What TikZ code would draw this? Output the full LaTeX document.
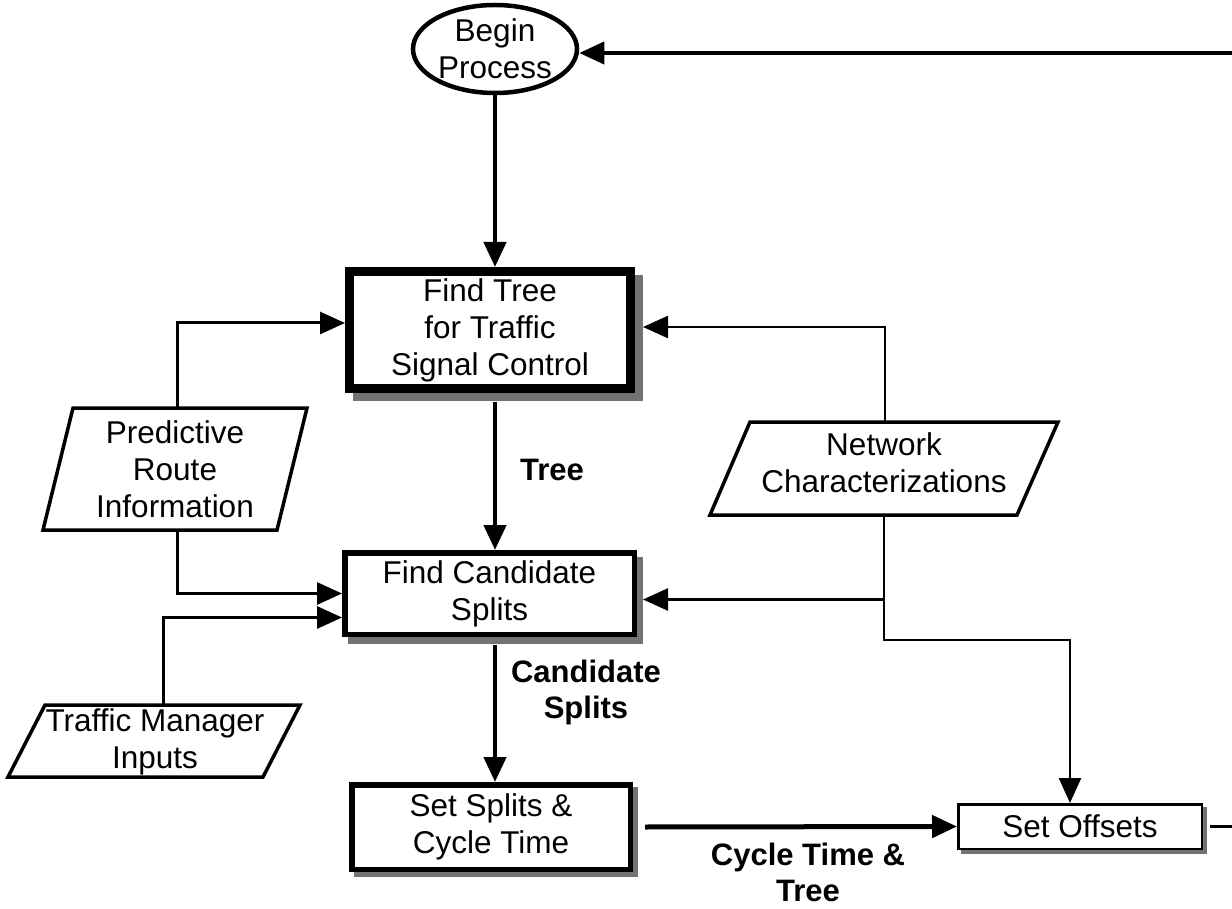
\documentclass[tikz,border=0pt]{standalone}
\usepackage{fontspec}
\setmainfont{Liberation Sans}
\usetikzlibrary{arrows.meta,shapes.geometric,calc}
\pgfdeclarelayer{background}
\pgfsetlayers{background,main}
\begin{document}
\begin{tikzpicture}[x=1pt,y=-1pt,
  txt/.style={font=\fontsize{31.5}{37}\selectfont, align=center, inner sep=0pt},
  lbl/.style={font=\fontsize{31}{36}\selectfont\bfseries, align=center, inner sep=0pt},
  proc/.style={draw, rectangle, inner sep=0pt, align=center, fill=white,
               font=\fontsize{31.5}{37}\selectfont},
  para/.style={draw, line width=3.5pt, line join=miter},
  shadowfill/.style={fill=black!55},
  conn/.style={-{Triangle[length=25pt,width=22pt]}, line join=miter},
]
\useasboundingbox (0,0) rectangle (1232,909);

% start node
\node[ellipse, draw, line width=4.5pt, minimum width=164pt, minimum height=88pt,
      txt] (begin) at (495,49) {Begin\\Process};

% process boxes
\node[proc, line width=9pt, minimum width=281pt, minimum height=117pt]
  (ft) at (490,330) {Find Tree\\for Traffic\\Signal Control};
\node[proc, line width=5.5pt, minimum width=289.5pt, minimum height=81.5pt]
  (fc) at (489.5,593.5) {Find Candidate\\Splits};
\node[proc, line width=5.5pt, minimum width=278.5pt, minimum height=84.5pt]
  (ss) at (491,827) {Set Splits \&\\Cycle Time};
\node[proc, line width=2.5pt, minimum width=243.5pt, minimum height=44.5pt]
  (so) at (1080,826.5) {Set Offsets};

% drop shadows
\begin{pgfonlayer}{background}
  \fill[shadowfill] ($(ft.north west)+(8,8)$) rectangle ($(ft.south east)+(8,8)$);
  \fill[shadowfill] ($(fc.north west)+(6,7)$) rectangle ($(fc.south east)+(6,7)$);
  \fill[shadowfill] ($(ss.north west)+(5,5)$) rectangle ($(ss.south east)+(5,5)$);
  \fill[shadowfill] ($(so.north west)+(4,4)$) rectangle ($(so.south east)+(4,4)$);
\end{pgfonlayer}

% data inputs
\draw[para] (73,408) -- (307,408) -- (277,530) -- (43,530) -- cycle;
\node[txt] (pr) at (175,469) {Predictive\\Route\\Information};
\coordinate (prtop) at (177,408);
\coordinate (prbot) at (177,530);

\draw[para] (750,422) -- (1058,422) -- (1017,515) -- (710,515) -- cycle;
\node[txt] (nc) at (884,463) {Network\\Characterizations};
\coordinate (nctop) at (885,422);
\coordinate (ncbot) at (884,515);

\draw[para] (45,705) -- (300,705) -- (263,777) -- (8,777) -- cycle;
\node[txt] (tm) at (155,742) {Traffic Manager\\Inputs};
\coordinate (tmtop) at (163,705);

% flow labels
\node[lbl] (ltree) at (552,470) {Tree};
\node[lbl] (lcand) at (586,692) {Candidate\\Splits};
\node[lbl] (lcycle) at (808,872) {Cycle Time \&\\Tree};

% loop back from the offsets step
\coordinate (ret) at (1236,53);
\coordinate (soout) at (1236,826.5);
\draw[line width=3pt] ($(so.east)+(7,0)$) -- (soout);
\draw[conn, line width=4pt] (ret) -- (ret -| begin.east);

% main flow
\draw[conn, line width=4.5pt] (begin.south) -- (begin.south |- ft.north);
\draw[conn, line width=4.5pt] ($(begin.south |- ft.south)+(0,9)$) -- (begin.south |- fc.north);
\draw[conn, line width=4.5pt] ($(begin.south |- fc.south)+(0,8)$) -- (begin.south |- ss.north);
\draw[conn, line width=5pt] ($(ss.east)+(12,0)$) -- (so.west);

% inputs into the steps
\draw[conn, line width=3pt] (prtop) |- ($(ft.west)+(0,-7)$);
\draw[conn, line width=2.5pt] (nctop) |- ($(ft.east)+(8,-3)$);
\draw[conn, line width=3pt] (prbot) |- (fc.west);
\draw[conn, line width=3pt] (tmtop) |- ($(fc.west)+(0,24)$);
\draw[conn, line width=2.5pt] (ncbot) |- ($(fc.east)+(6,6)$);
\draw[conn, line width=2.5pt] (ncbot) -- ++(0,125) -| ($(so.north)+(-10,0)$);
\end{tikzpicture}
\end{document}
